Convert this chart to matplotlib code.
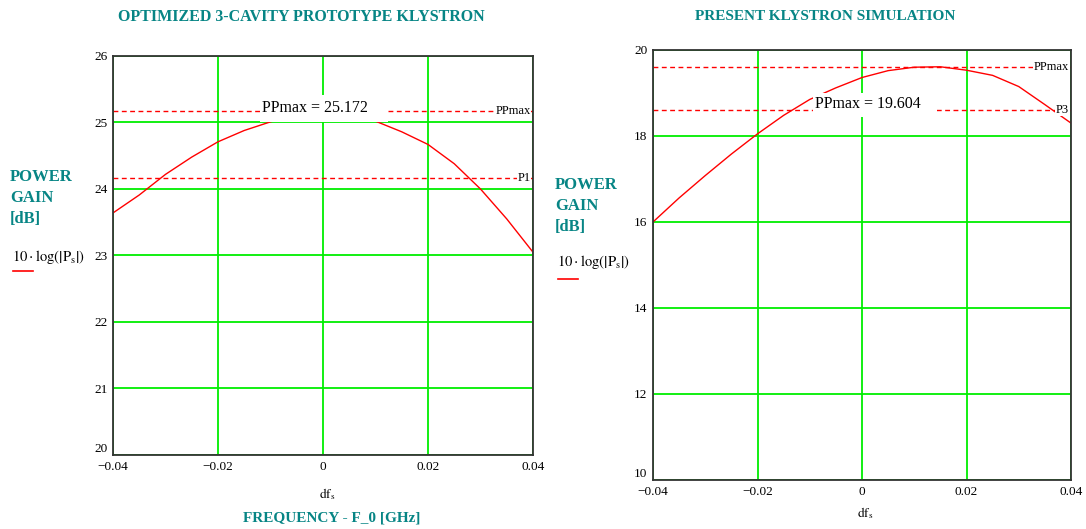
import numpy as np
import matplotlib.pyplot as plt
from matplotlib.patches import Rectangle
from matplotlib.lines import Line2D

plt.rcParams['font.family'] = ['Liberation Serif', 'DejaVu Serif']
plt.rcParams['mathtext.fontset'] = 'stix'

## data
df_s = [-0.04, -0.035, -0.03, -0.025, -0.02, -0.015, -0.01, -0.005, 0.0,
        0.005, 0.01, 0.015, 0.02, 0.025, 0.03, 0.035, 0.04]
gain_proto = [23.64, 23.91, 24.22, 24.48, 24.71, 24.88, 25.01, 25.12, 25.17,
              25.14, 25.02, 24.86, 24.67, 24.38, 24.00, 23.55, 23.05]
gain_present = [16.00, 16.56, 17.08, 17.58, 18.05, 18.48, 18.85, 19.12, 19.36,
                19.52, 19.60, 19.61, 19.53, 19.41, 19.15, 18.73, 18.30]
ppmax_proto = 25.172
ppmax_present = 19.604
p1 = ppmax_proto - 1
p3 = ppmax_present - 1

x_ticks = [-0.04, -0.02, 0, 0.02, 0.04]
x_ticklabels = ['\u22120.04', '\u22120.02', '0', '0.02', '0.04']
y_ticks_proto = [20, 21, 22, 23, 24, 25, 26]
y_ticks_present = [10, 12, 14, 16, 18, 20]

teal = '#078585'
green = '#00ee00'
red = '#ff0000'
W, H = 1086, 529

fig = plt.figure(figsize=(W / 100, H / 100), dpi=100)
fig.patch.set_facecolor('white')

def px(x, y):
    return x / W, 1 - y / H

def axes_px(x0, y0, x1, y1):
    return fig.add_axes([x0 / W, 1 - y1 / H, (x1 - x0) / W, (y1 - y0) / H])

def setup(ax, yticks):
    ax.set_xlim(-0.04, 0.04)
    ax.set_ylim(yticks[0], yticks[-1])
    ax.set_xticks(x_ticks)
    ax.set_xticklabels(x_ticklabels)
    ax.set_yticks(yticks)
    ax.set_yticklabels([str(t) for t in yticks])
    ax.tick_params(length=0, labelsize=9.5, pad=4)
    ax.grid(True, color=green, lw=1.3, zorder=1)
    ax.set_axisbelow(True)
    for s in ax.spines.values():
        s.set_color('#333333')
        s.set_linewidth(1.3)
        s.set_zorder(6)
    # lowest y label sits a bit higher, like Mathcad
    ax.get_yticklabels()[0].set_verticalalignment('bottom')

def hline(ax, y, name):
    ax.axhline(y, color=red, lw=1, ls=(0, (3.5, 2.5)), zorder=2)
    ax.text(0.0396, y, name, ha='right', va='center', fontsize=9, zorder=5,
            bbox=dict(facecolor='white', edgecolor='none', pad=0.3))

# ---- left: optimized prototype
ax1 = axes_px(113, 56, 533, 455)
setup(ax1, y_ticks_proto)
ax1.plot(df_s, gain_proto, color=red, lw=1, zorder=3)
hline(ax1, ppmax_proto, 'PPmax')
hline(ax1, p1, 'P1')
ax1.add_patch(Rectangle((-0.012, 25.012), 0.0244, 0.40, facecolor='white',
                        edgecolor='none', zorder=4))
ax1.text(-0.0015, 25.215, 'PPmax = %.3f' % ppmax_proto, ha='center', va='center',
         fontsize=11.5, zorder=5)

# ---- right: present klystron
ax2 = axes_px(653, 50, 1071, 480)
setup(ax2, y_ticks_present)
ax2.plot(df_s, gain_present, color=red, lw=1, zorder=3)
hline(ax2, ppmax_present, 'PPmax')
hline(ax2, p3, 'P3')
ax2.add_patch(Rectangle((-0.0094, 18.44), 0.0237, 0.56, facecolor='white',
                        edgecolor='none', zorder=4))
ax2.text(-0.0089, 18.75, 'PPmax = %.3f' % ppmax_present, ha='left', va='center',
         fontsize=11.5, zorder=5)

# ---- titles and side labels
fig.text(*px(301, 17), 'OPTIMIZED 3-CAVITY PROTOTYPE KLYSTRON', ha='center',
         va='center', color=teal, fontsize=11.5, fontweight='bold')
fig.text(*px(825, 16), 'PRESENT KLYSTRON SIMULATION', ha='center', va='center',
         color=teal, fontsize=11, fontweight='bold')
fig.text(*px(332, 518), 'FREQUENCY - F_0 [GHz]', ha='center', va='center',
         color=teal, fontsize=11, fontweight='bold')

ylab = r'$10\cdot\mathrm{log}\left(\left|\mathrm{P}_{\mathrm{s}}\right|\right)$'
for (x, y0, ylg, yline) in [(10, 177, 257, 271), (555, 185, 262, 279)]:
    for i, word in enumerate(['POWER', 'GAIN', '[dB]']):
        fig.text(*px(x, y0 + 21 * i), word, ha='left', va='center', color=teal,
                 fontsize=12, fontweight='bold')
    fig.text(*px(x + 2, ylg), ylab, ha='left', va='center', fontsize=10.5)
    fig.add_artist(Line2D([(x + 3) / W, (x + 23) / W], [1 - yline / H] * 2,
                          color=red, lw=1.2))

fig.text(*px(327, 494), r'$\mathrm{df}_{\mathrm{s}}$', ha='center', va='center', fontsize=9.5)
fig.text(*px(865, 513), r'$\mathrm{df}_{\mathrm{s}}$', ha='center', va='center', fontsize=9.5)

fig.savefig('out.png', dpi=100)
